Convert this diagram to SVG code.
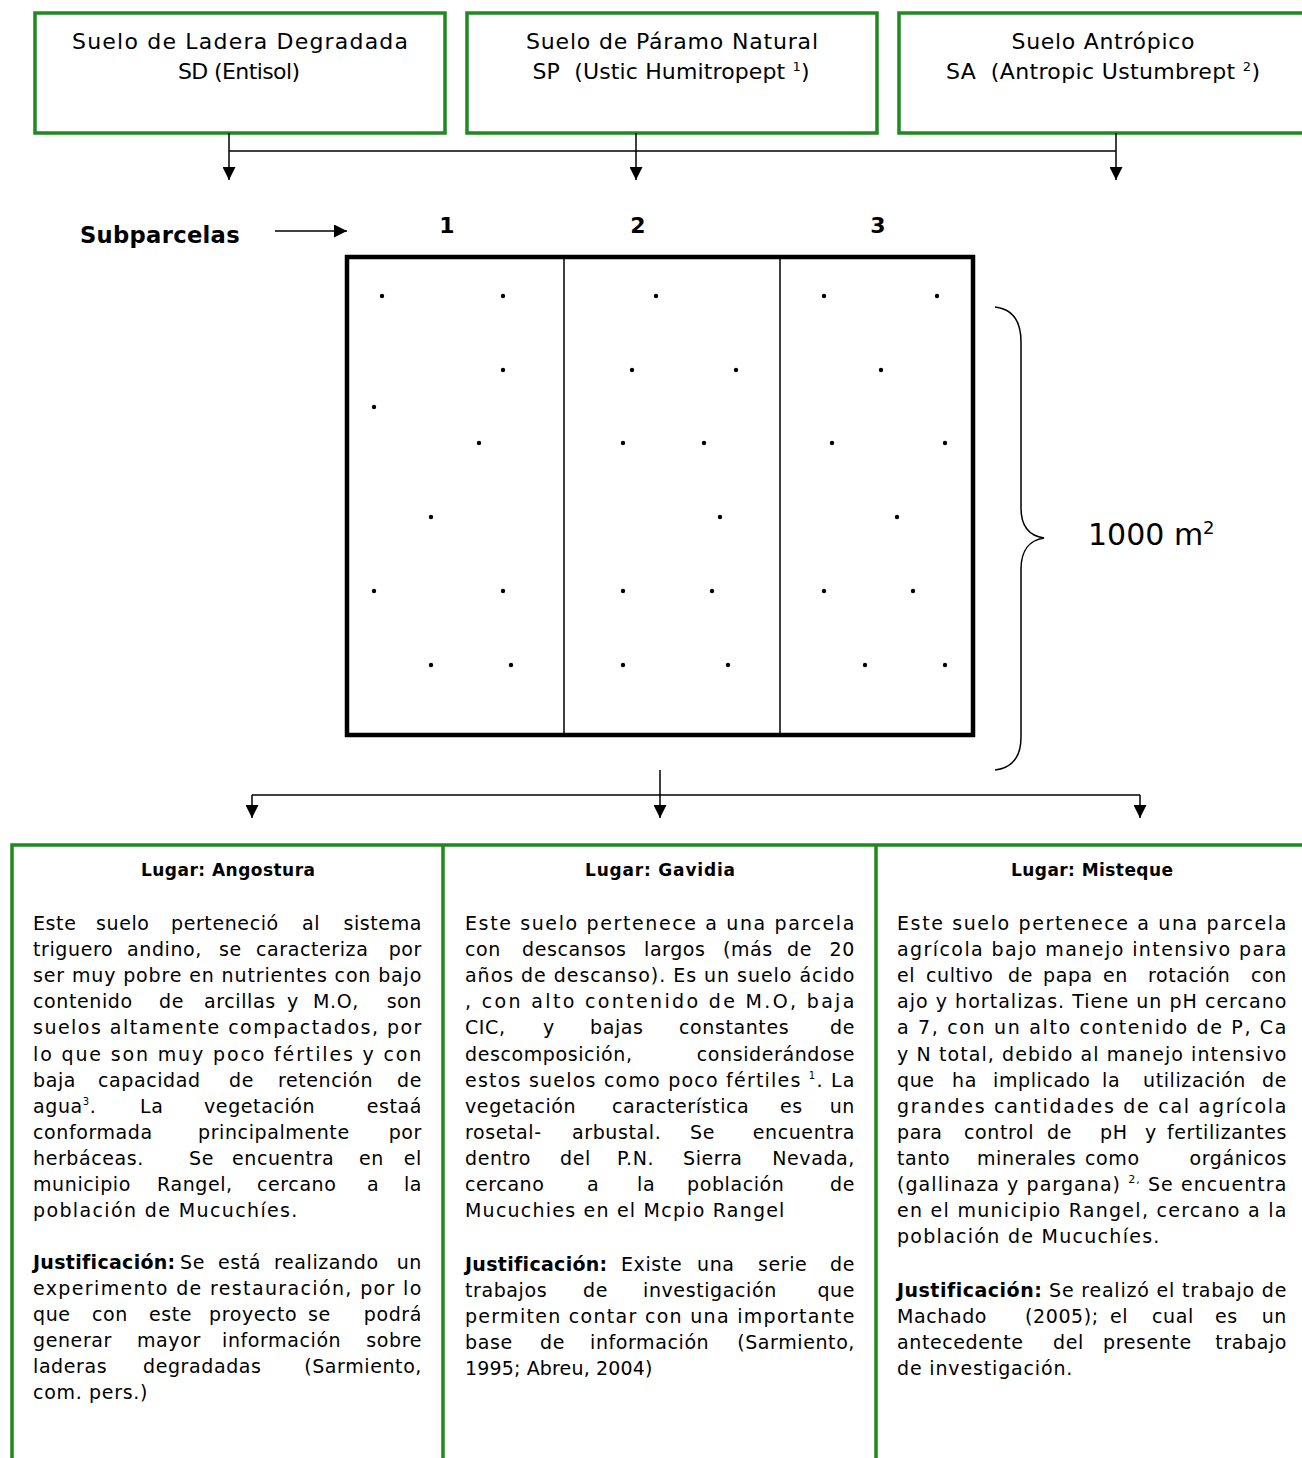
<svg xmlns="http://www.w3.org/2000/svg" width="1302" height="1458" viewBox="0 0 1302 1458">
<style>
.box{fill:none;stroke:#1e8a1e;stroke-width:3.5}
.frame{fill:none;stroke:#000;stroke-width:4.5}
.div{stroke:#000;stroke-width:1.5}
.conn{stroke:#000;stroke-width:1.5;fill:none}
.t{font-family:"DejaVu Sans","Liberation Sans",sans-serif;font-size:22px;fill:#000}
.b{font-family:"DejaVu Sans","Liberation Sans",sans-serif;font-size:19px;fill:#000;letter-spacing:0.6px}
.h{font-family:"DejaVu Sans","Liberation Sans",sans-serif;font-size:17px;font-weight:bold;fill:#000}
.bold{font-weight:bold;letter-spacing:0.3px}
.e{text-anchor:end}
.sup{font-size:10px}
.dot{fill:#000}
</style>
<defs>
<marker id="ah" viewBox="0 0 10 10" refX="10" refY="5" markerUnits="userSpaceOnUse" markerWidth="15" markerHeight="13" orient="auto">
<path d="M0,0 L10,5 L0,10 z" fill="#000"/>
</marker>
</defs>
<rect width="1302" height="1458" fill="#fff"/>

<g id="node-sd">
<rect class="box" x="35" y="13" width="410" height="120"/>
<text class="t" x="240" y="49" text-anchor="middle" textLength="336" lengthAdjust="spacing">Suelo de Ladera Degradada</text>
<text class="t" x="239" y="79" text-anchor="middle" textLength="122" lengthAdjust="spacing">SD (Entisol)</text>
</g>
<g id="node-sp">
<rect class="box" x="467" y="13" width="410" height="120"/>
<text class="t" x="672" y="49" text-anchor="middle" textLength="292" lengthAdjust="spacing">Suelo de Páramo Natural</text>
<text class="t" x="671" y="79" text-anchor="middle" textLength="277" lengthAdjust="spacing" xml:space="preserve">SP  (Ustic Humitropept <tspan style="font-size:13px" dy="-8">1</tspan><tspan dy="8">)</tspan></text>
</g>
<g id="node-sa">
<rect class="box" x="899" y="13" width="430" height="120"/>
<text class="t" x="1103" y="49" text-anchor="middle" textLength="183" lengthAdjust="spacing">Suelo Antrópico</text>
<text class="t" x="1103" y="79" text-anchor="middle" textLength="314" lengthAdjust="spacing" xml:space="preserve">SA  (Antropic Ustumbrept <tspan style="font-size:13px" dy="-8">2</tspan><tspan dy="8">)</tspan></text>
</g>

<g id="connectors">
<path class="conn" d="M229,133 V180" marker-end="url(#ah)"/>
<path class="conn" d="M636,133 V180" marker-end="url(#ah)"/>
<path class="conn" d="M1116,133 V180" marker-end="url(#ah)"/>
<path class="conn" d="M229,151 H1116"/>
<path class="conn" d="M275,231 H347" marker-end="url(#ah)"/>
<path class="conn" d="M660,770 V818" marker-end="url(#ah)"/>
<path class="conn" d="M252,795 H1140"/>
<path class="conn" d="M252,795 V818" marker-end="url(#ah)"/>
<path class="conn" d="M1140,795 V818" marker-end="url(#ah)"/>
</g>

<g id="node-subparcelas">
<text class="t bold" x="80" y="243" style="font-size:23px" textLength="160" lengthAdjust="spacingAndGlyphs">Subparcelas</text>
<text class="t bold" x="447" y="233" text-anchor="middle">1</text>
<text class="t bold" x="638" y="233" text-anchor="middle">2</text>
<text class="t bold" x="878" y="233" text-anchor="middle">3</text>
</g>

<g id="node-parcela">
<rect class="frame" x="347" y="257" width="626" height="478"/>
<line class="div" x1="564" y1="257" x2="564" y2="735"/>
<line class="div" x1="780" y1="257" x2="780" y2="735"/>
<g class="dot">
<circle cx="382" cy="296" r="2.2"/><circle cx="503" cy="296" r="2.2"/><circle cx="503" cy="370" r="2.2"/><circle cx="374" cy="407" r="2.2"/><circle cx="479" cy="443" r="2.2"/><circle cx="431" cy="517" r="2.2"/><circle cx="374" cy="591" r="2.2"/><circle cx="503" cy="591" r="2.2"/><circle cx="431" cy="665" r="2.2"/><circle cx="511" cy="665" r="2.2"/>
<circle cx="656" cy="296" r="2.2"/><circle cx="632" cy="370" r="2.2"/><circle cx="736" cy="370" r="2.2"/><circle cx="623" cy="443" r="2.2"/><circle cx="704" cy="443" r="2.2"/><circle cx="720" cy="517" r="2.2"/><circle cx="623" cy="591" r="2.2"/><circle cx="712" cy="591" r="2.2"/><circle cx="623" cy="665" r="2.2"/><circle cx="728" cy="665" r="2.2"/>
<circle cx="824" cy="296" r="2.2"/><circle cx="937" cy="296" r="2.2"/><circle cx="881" cy="370" r="2.2"/><circle cx="832" cy="443" r="2.2"/><circle cx="945" cy="443" r="2.2"/><circle cx="897" cy="517" r="2.2"/><circle cx="824" cy="591" r="2.2"/><circle cx="913" cy="591" r="2.2"/><circle cx="865" cy="665" r="2.2"/><circle cx="945" cy="665" r="2.2"/>
</g>
</g>

<g id="node-area">
<path class="conn" d="M995,307 C1012,309 1021,320 1021,342 L1021,508 C1021,527 1030,536 1044,538 C1030,540 1021,550 1021,569 L1021,737 C1021,758 1012,768 995,770"/>
<text class="t" x="1088" y="545" style="font-size:30px">1000 m<tspan style="font-size:18px" dy="-11">2</tspan></text>
</g>

<g id="bottom-frame">
<path class="box" d="M12,1460 V845 H1304 M443,845 V1460 M876,845 V1460"/>
</g>

<g id="node-angostura">
<text class="h" x="228" y="876" text-anchor="middle" textLength="174" lengthAdjust="spacing">Lugar: Angostura</text>
<g class="b">
<text y="930"><tspan x="33">Este</tspan><tspan x="96">suelo</tspan><tspan x="171">perteneció</tspan><tspan x="302">al</tspan><tspan x="422" class="e">sistema</tspan></text>
<text y="956"><tspan x="33">triguero</tspan><tspan x="127">andino,</tspan><tspan x="219">se</tspan><tspan x="256">caracteriza</tspan><tspan x="422" class="e">por</tspan></text>
<text x="33" y="982" textLength="389" lengthAdjust="spacing">ser muy pobre en nutrientes con bajo</text>
<text y="1008"><tspan x="33">contenido</tspan><tspan x="159">de</tspan><tspan x="204">arcillas</tspan><tspan x="287">y</tspan><tspan x="313">M.O,</tspan><tspan x="422" class="e">son</tspan></text>
<text x="33" y="1034" textLength="389" lengthAdjust="spacing">suelos altamente compactados, por</text>
<text x="33" y="1061" textLength="389" lengthAdjust="spacing">lo que son muy poco fértiles y con</text>
<text y="1087"><tspan x="33">baja</tspan><tspan x="98">capacidad</tspan><tspan x="229">de</tspan><tspan x="278">retención</tspan><tspan x="422" class="e">de</tspan></text>
<text y="1113"><tspan x="33">agua</tspan><tspan class="sup" dy="-8">3</tspan><tspan dy="8">.</tspan><tspan x="140">La</tspan><tspan x="204">vegetación</tspan><tspan x="422" class="e">estaá</tspan></text>
<text y="1139"><tspan x="33">conformada</tspan><tspan x="198">principalmente</tspan><tspan x="422" class="e">por</tspan></text>
<text y="1165"><tspan x="33">herbáceas.</tspan><tspan x="189">Se</tspan><tspan x="232">encuentra</tspan><tspan x="359">en</tspan><tspan x="422" class="e">el</tspan></text>
<text y="1191"><tspan x="33">municipio</tspan><tspan x="157">Rangel,</tspan><tspan x="257">cercano</tspan><tspan x="367">a</tspan><tspan x="422" class="e">la</tspan></text>
<text x="33" y="1217" textLength="265" lengthAdjust="spacing">población de Mucuchíes.</text>
<text y="1269"><tspan x="33" class="bold">Justificación:</tspan><tspan x="180">Se</tspan><tspan x="218">está</tspan><tspan x="274">realizando</tspan><tspan x="422" class="e">un</tspan></text>
<text x="33" y="1295" textLength="389" lengthAdjust="spacing">experimento de restauración, por lo</text>
<text y="1321"><tspan x="33">que</tspan><tspan x="92">con</tspan><tspan x="149">este</tspan><tspan x="209">proyecto</tspan><tspan x="308">se</tspan><tspan x="422" class="e">podrá</tspan></text>
<text y="1347"><tspan x="33">generar</tspan><tspan x="137">mayor</tspan><tspan x="222">información</tspan><tspan x="422" class="e">sobre</tspan></text>
<text y="1373"><tspan x="33">laderas</tspan><tspan x="143">degradadas</tspan><tspan x="422" class="e">(Sarmiento,</tspan></text>
<text x="33" y="1399" textLength="115" lengthAdjust="spacing">com. pers.)</text>
</g>
</g>

<g id="node-gavidia">
<text class="h" x="660" y="876" text-anchor="middle" textLength="150" lengthAdjust="spacing">Lugar: Gavidia</text>
<g class="b">
<text x="465" y="930" textLength="390" lengthAdjust="spacing">Este suelo pertenece a una parcela</text>
<text y="956"><tspan x="465">con</tspan><tspan x="522">descansos</tspan><tspan x="644">largos</tspan><tspan x="723">(más</tspan><tspan x="787">de</tspan><tspan x="855" class="e">20</tspan></text>
<text x="465" y="982" textLength="390" lengthAdjust="spacing">años de descanso). Es un suelo ácido</text>
<text x="465" y="1008" textLength="390" lengthAdjust="spacing">, con alto contenido de M.O, baja</text>
<text y="1034"><tspan x="465">CIC,</tspan><tspan x="543">y</tspan><tspan x="590">bajas</tspan><tspan x="679">constantes</tspan><tspan x="855" class="e">de</tspan></text>
<text y="1061"><tspan x="465">descomposición,</tspan><tspan x="855" class="e">considerándose</tspan></text>
<text x="465" y="1087" textLength="390" lengthAdjust="spacing">estos suelos como  poco fértiles <tspan class="sup" dy="-8">1</tspan><tspan dy="8">. La</tspan></text>
<text y="1113"><tspan x="465">vegetación</tspan><tspan x="612">característica</tspan><tspan x="780">es</tspan><tspan x="855" class="e">un</tspan></text>
<text y="1139"><tspan x="465">rosetal-</tspan><tspan x="572">arbustal.</tspan><tspan x="690">Se</tspan><tspan x="855" class="e">encuentra</tspan></text>
<text y="1165"><tspan x="465">dentro</tspan><tspan x="560">del</tspan><tspan x="617">P.N.</tspan><tspan x="683">Sierra</tspan><tspan x="855" class="e">Nevada,</tspan></text>
<text y="1191"><tspan x="465">cercano</tspan><tspan x="587">a</tspan><tspan x="637">la</tspan><tspan x="687">población</tspan><tspan x="855" class="e">de</tspan></text>
<text x="465" y="1217" textLength="320" lengthAdjust="spacing">Mucuchies en el Mcpio Rangel</text>
<text y="1271"><tspan x="465" class="bold">Justificación:</tspan><tspan x="621">Existe</tspan><tspan x="697">una</tspan><tspan x="758">serie</tspan><tspan x="855" class="e">de</tspan></text>
<text y="1297"><tspan x="465">trabajos</tspan><tspan x="583">de</tspan><tspan x="643">investigación</tspan><tspan x="855" class="e">que</tspan></text>
<text x="465" y="1323" textLength="390" lengthAdjust="spacing">permiten contar con una importante</text>
<text y="1349"><tspan x="465">base</tspan><tspan x="540">de</tspan><tspan x="590">información</tspan><tspan x="855" class="e">(Sarmiento,</tspan></text>
<text x="465" y="1375" textLength="188" lengthAdjust="spacing">1995; Abreu, 2004)</text>
</g>
</g>

<g id="node-misteque">
<text class="h" x="1092" y="876" text-anchor="middle" textLength="162" lengthAdjust="spacing">Lugar: Misteque</text>
<g class="b">
<text x="897" y="930" textLength="390" lengthAdjust="spacing">Este suelo pertenece a una parcela</text>
<text x="897" y="956" textLength="390" lengthAdjust="spacing">agrícola bajo manejo intensivo para</text>
<text y="982"><tspan x="897">el</tspan><tspan x="926">cultivo</tspan><tspan x="1008">de</tspan><tspan x="1043">papa</tspan><tspan x="1103">en</tspan><tspan x="1148">rotación</tspan><tspan x="1287" class="e">con</tspan></text>
<text x="897" y="1008" textLength="390" lengthAdjust="spacing">ajo y hortalizas. Tiene un pH cercano</text>
<text x="897" y="1034" textLength="390" lengthAdjust="spacing">a 7, con un alto contenido de P, Ca</text>
<text x="897" y="1061" textLength="390" lengthAdjust="spacing">y N total, debido al manejo intensivo</text>
<text y="1087"><tspan x="897">que</tspan><tspan x="952">ha</tspan><tspan x="993">implicado</tspan><tspan x="1102">la</tspan><tspan x="1143">utilización</tspan><tspan x="1287" class="e">de</tspan></text>
<text x="897" y="1113" textLength="390" lengthAdjust="spacing">grandes cantidades de cal agrícola</text>
<text y="1139"><tspan x="897">para</tspan><tspan x="964">control</tspan><tspan x="1047">de</tspan><tspan x="1100">pH</tspan><tspan x="1145">y</tspan><tspan x="1287" class="e">fertilizantes</tspan></text>
<text y="1165"><tspan x="897">tanto</tspan><tspan x="977">minerales</tspan><tspan x="1085">como</tspan><tspan x="1287" class="e">orgánicos</tspan></text>
<text x="897" y="1191" textLength="390" lengthAdjust="spacing">(gallinaza y pargana) <tspan style="font-size:11px" dy="-8">2,</tspan><tspan dy="8"> Se encuentra</tspan></text>
<text x="897" y="1217" textLength="390" lengthAdjust="spacing">en el municipio Rangel, cercano a la</text>
<text x="897" y="1243" textLength="263" lengthAdjust="spacing">población de Mucuchíes.</text>
<text x="897" y="1297" textLength="390" lengthAdjust="spacing"><tspan class="bold">Justificación:</tspan> Se realizó el trabajo de</text>
<text y="1323"><tspan x="897">Machado</tspan><tspan x="1025">(2005);</tspan><tspan x="1110">el</tspan><tspan x="1152">cual</tspan><tspan x="1215">es</tspan><tspan x="1287" class="e">un</tspan></text>
<text y="1349"><tspan x="897">antecedente</tspan><tspan x="1053">del</tspan><tspan x="1103">presente</tspan><tspan x="1287" class="e">trabajo</tspan></text>
<text x="897" y="1375" textLength="176" lengthAdjust="spacing">de investigación.</text>
</g>
</g>
</svg>
